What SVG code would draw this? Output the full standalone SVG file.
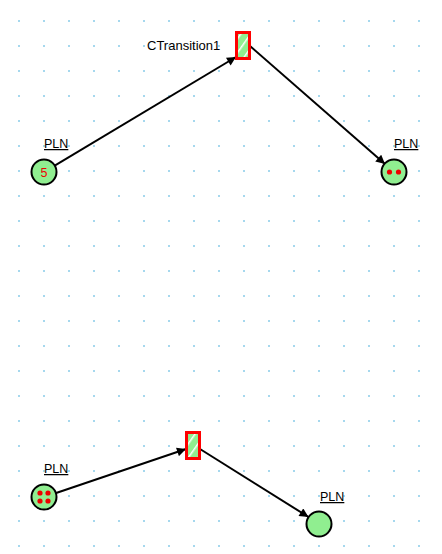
<svg xmlns="http://www.w3.org/2000/svg" width="442" height="554" viewBox="0 0 442 554">
<defs>
<style>
.place{fill:#90ee90;stroke:#000;stroke-width:2}
.lbl{font-family:"Liberation Sans",Arial,sans-serif;font-size:12.5px;fill:#000;text-decoration:underline}
.arc{stroke:#000;stroke-width:2;fill:none;marker-end:url(#ah)}
.tok{fill:#e00}
.trans{fill:url(#stripes);stroke:#f00;stroke-width:3}
</style>
<pattern id="grid" patternUnits="userSpaceOnUse" x="18" y="20" width="25" height="25">
<rect x="0" y="0" width="2" height="2" fill="#a6d8ee"/>
</pattern>
<pattern id="stripes" patternUnits="userSpaceOnUse" width="8" height="8" patternTransform="rotate(-55)">
<rect width="8" height="8" fill="#90ee90"/>
<rect width="8" height="1.5" fill="#ffffff"/>
</pattern>
<marker id="ah" viewBox="0 0 10 10" refX="10" refY="5" markerWidth="10" markerHeight="9" markerUnits="userSpaceOnUse" orient="auto">
<path d="M0,0 L10,5 L0,10 z" fill="#000"/>
</marker>
</defs>
<rect width="442" height="554" fill="#fff"/>
<rect width="442" height="554" fill="url(#grid)"/>
<g id="connectors">
<line class="arc" x1="54.3" y1="165.9" x2="236" y2="57"/>
<line class="arc" x1="250" y1="46" x2="385" y2="164"/>
<line class="arc" x1="55.4" y1="493.3" x2="186" y2="449"/>
<line class="arc" x1="200" y1="449" x2="308.5" y2="517"/>
</g>
<g id="place1">
<circle class="place" cx="44" cy="172" r="12.5"/>
<text x="44" y="176.5" text-anchor="middle" font-family="Liberation Sans,Arial,sans-serif" font-size="12.5" fill="#e00">5</text>
<text class="lbl" x="44" y="148">PLN</text>
</g>
<g id="transition1">
<rect class="trans" x="236.5" y="32.5" width="13" height="26"/>
<text x="147" y="49.5" font-family="Liberation Sans,Arial,sans-serif" font-size="13" fill="#000">CTransition1</text>
</g>
<g id="place2">
<circle class="place" cx="394" cy="172" r="12.5"/>
<circle class="tok" cx="389.5" cy="172" r="2.6"/>
<circle class="tok" cx="398.5" cy="172" r="2.6"/>
<text class="lbl" x="394" y="148">PLN</text>
</g>
<g id="place3">
<circle class="place" cx="44" cy="497" r="12.5"/>
<circle class="tok" cx="40" cy="493" r="2.6"/>
<circle class="tok" cx="48" cy="493" r="2.6"/>
<circle class="tok" cx="40" cy="501" r="2.6"/>
<circle class="tok" cx="48" cy="501" r="2.6"/>
<text class="lbl" x="44" y="473">PLN</text>
</g>
<g id="transition2">
<rect class="trans" x="186.5" y="432.5" width="13" height="26"/>
</g>
<g id="place4">
<circle class="place" cx="319" cy="524" r="12.5"/>
<text class="lbl" x="320" y="501">PLN</text>
</g>
</svg>
